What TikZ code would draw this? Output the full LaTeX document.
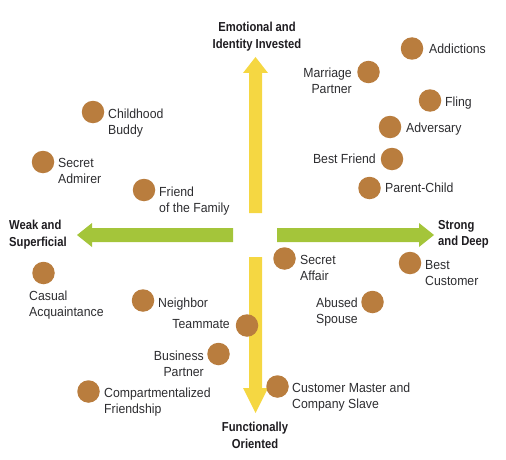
\documentclass[tikz,border=0pt]{standalone}
\usepackage{fontspec}
\setmainfont{Liberation Sans}[FakeStretch=0.93]
\newfontfamily\axisfont{Liberation Sans}[FakeStretch=0.865]
\definecolor{dotbrown}{RGB}{185,125,62}
\definecolor{axisyellow}{RGB}{245,215,66}
\definecolor{axisgreen}{RGB}{164,197,58}
\definecolor{txt}{RGB}{45,45,48}
\definecolor{axtxt}{RGB}{30,28,32}
\begin{document}
\begin{tikzpicture}[x=1pt,y=-1pt,
  dot/.style={circle,fill=dotbrown,minimum size=22.5pt,inner sep=0pt},
  lbl/.style={inner sep=0pt,text=txt,font=\fontsize{13.2}{16}\selectfont},
  lbll/.style={lbl,anchor=north west,align=left},
  lblr/.style={lbl,anchor=north east,align=right},
  axlbl/.style={inner sep=0pt,text=axtxt,font=\axisfont\bfseries\fontsize{13}{16.5}\selectfont},
  yarrow/.style={fill=axisyellow},
  garrow/.style={fill=axisgreen}]
\useasboundingbox (0,0) rectangle (506,460);
% axis arrows
\path[yarrow] (249,213) -- (249,73) -- (243,73) -- (255.5,57) -- (268,73) -- (262,73) -- (262,213) -- cycle;
\path[yarrow] (249,257) -- (249,388) -- (243,388) -- (255.5,413) -- (268,388) -- (262,388) -- (262,257) -- cycle;
\path[garrow] (233,228) -- (92,228) -- (92,223) -- (77,235) -- (92,247) -- (92,242) -- (233,242) -- cycle;
\path[garrow] (277,228) -- (419,228) -- (419,223) -- (434,235) -- (419,247) -- (419,242) -- (277,242) -- cycle;
% axis labels
\node[axlbl,anchor=north,align=center] (top) at (257,22) {Emotional and\\Identity Invested};
\node[axlbl,anchor=north west,align=left] (left) at (9,220) {Weak and\\Superficial};
\node[axlbl,anchor=north west,align=left] (right) at (438,220) {Strong\\and Deep};
\node[axlbl,anchor=north,align=center] (bottom) at (255,422) {Functionally\\Oriented};
% dots
\node[dot] (d1) at (93,112) {};
\node[dot] (d2) at (43,162) {};
\node[dot] (d3) at (144,190) {};
\node[dot] (d4) at (412,48.5) {};
\node[dot] (d5) at (368.5,72) {};
\node[dot] (d6) at (430,100.5) {};
\node[dot] (d7) at (390,127) {};
\node[dot] (d8) at (392,159) {};
\node[dot] (d9) at (369.5,188) {};
\node[dot] (d10) at (43.5,273) {};
\node[dot] (d11) at (143,300.5) {};
\node[dot] (d12) at (247,325.5) {};
\node[dot] (d13) at (218.5,354) {};
\node[dot] (d14) at (88.5,391.5) {};
\node[dot] (d15) at (284.5,258.5) {};
\node[dot] (d16) at (410,263) {};
\node[dot] (d17) at (372.5,302) {};
\node[dot] (d18) at (277.5,386.5) {};
% labels
\node[lbll] (l1) at (108,109) {Childhood\\Buddy};
\node[lbll] (l2) at (58,158) {Secret\\Admirer};
\node[lbll] (l3) at (159,187) {Friend\\of the Family};
\node[lbll] (l4) at (429,44) {Addictions};
\node[lblr] (l5) at (352,68) {Marriage\\Partner};
\node[lbll] (l6) at (445,97) {Fling};
\node[lbll] (l7) at (406,123) {Adversary};
\node[lblr] (l8) at (376,154) {Best Friend};
\node[lbll] (l9) at (385,183) {Parent-Child};
\node[lbll] (l10) at (29,291) {Casual\\Acquaintance};
\node[lbll] (l11) at (158,298) {Neighbor};
\node[lblr] (l12) at (230,319) {Teammate};
\node[lblr] (l13) at (204,351) {Business\\Partner};
\node[lbll] (l14) at (104,388) {Compartmentalized\\Friendship};
\node[lbll] (l15) at (300,255) {Secret\\Affair};
\node[lbll] (l16) at (425,260) {Best\\Customer};
\node[lblr] (l17) at (358,298) {Abused\\Spouse};
\node[lbll] (l18) at (292,383) {Customer Master and\\Company Slave};
\end{tikzpicture}
\end{document}
